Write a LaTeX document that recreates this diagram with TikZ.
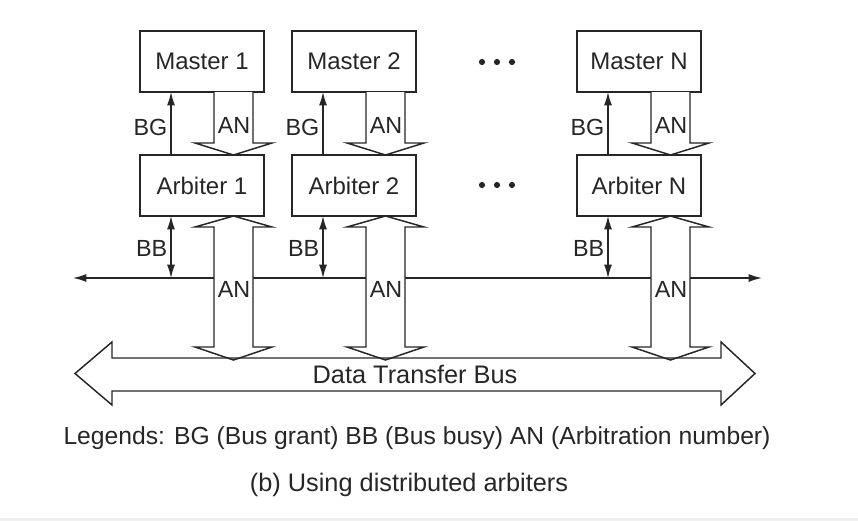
\documentclass[tikz,border=0pt]{standalone}
\usepackage{fontspec}
\setmainfont{Liberation Sans}
\usetikzlibrary{arrows.meta,calc}

\tikzset{every picture/.style={line width=1.1pt}}
\tikzset{
  unitbox/.style={draw, rectangle, minimum width=93pt, minimum height=45.75pt, inner sep=0pt, outer sep=0pt, anchor=north west, font=\fontsize{18}{20}\selectfont},
  sig/.style={-{Latex[length=10pt,width=6pt]}},
  sigboth/.style={{Latex[length=10pt,width=6pt]}-{Latex[length=10pt,width=6pt]}},
  hollow/.style={draw, fill=white, line join=miter},
  lbl/.style={inner sep=0.75pt, font=\fontsize{17.5}{20}\selectfont},
  bigtext/.style={inner sep=0.75pt, font=\fontsize{19}{22}\selectfont},
}

\begin{document}
\begin{tikzpicture}[x=0.75pt,y=0.75pt,yscale=-1,xscale=1,color=black!85]
\useasboundingbox (0,0) rectangle (858,521);
%Shape: strip at the bottom
\fill[black!6] (0,518) rectangle (858,521);

%Straight Lines: arbitration bus
\coordinate (busL) at (73,278);
\coordinate (busR) at (762,278);
\draw[sigboth] (busL) -- (busR);

\foreach \lx/\k in {140/1,292/2,577/N}{
  % Master and Arbiter
  \node[unitbox] (m\k) at (\lx,31) {Master \k};
  \node[unitbox] (a\k) at (\lx,155) {Arbiter \k};
  % BG
  \draw[sig] ($(a\k.north west)+(31,0)$) -- ($(m\k.south west)+(31,0)$);
  \node[lbl, anchor=east] (bg\k) at ($(m\k.south west)+(29,35)$) {BG};
  % BB
  \coordinate (bb\k) at ($(a\k.south west)+(31,0)$);
  \draw[sigboth] (bb\k) -- (bb\k |- busL);
  \node[lbl, anchor=east] (bblbl\k) at ($(a\k.south west)+(29,32)$) {BB};
  %Shape: AN from Master to Arbiter
  \draw[hollow] ($(m\k.south west)+(74,0)$) -- ($(a\k.north west)+(74,-12)$) -- ($(a\k.north west)+(55,-12)$) -- ($(a\k.north west)+(93.5,0)$) -- ($(a\k.north west)+(132,-12)$) -- ($(a\k.north west)+(113,-12)$) -- ($(m\k.south west)+(113,0)$);
  \node[lbl] (an\k) at ($(m\k.south west)+(94,33)$) {AN};
  %Shape: AN between Arbiter and Data Transfer Bus
  \draw[hollow] ($(a\k.south west)+(93.5,0)$) -- ++(38.5,11) -- ++(-19,0) -- ++(0,120) -- ++(19,0) -- ++(-38.5,13) -- ++(-38.5,-13) -- ++(19,0) -- ++(0,-120) -- ++(-19,0) -- cycle;
  \node[lbl] (anbus\k) at ($(a\k.south west)+(94,73)$) {AN};
}

%Shape: dots
\foreach \y in {62,185}
  \foreach \dx in {0,15,30}
    \fill (482+\dx,\y) circle (3.1);

%Shape: Data Transfer Bus
\draw[line join=miter] (75,373.5) -- (112,342) -- (112,358) -- (721,358) -- (721,342) -- (755,373.5) -- (721,405) -- (721,391) -- (112,391) -- (112,405) -- cycle;

% Text Node
\node[bigtext] (dtb) at (415,374) {Data Transfer Bus};
% Text Node
\node[bigtext, font=\fontsize{18.5}{22}\selectfont] (legend) at (417,438) {Legends: BG (Bus grant) BB (Bus busy) AN (Arbitration number)};
% Text Node
\node[bigtext] (caption) at (409,485) {(b) Using distributed arbiters};

\end{tikzpicture}
\end{document}
